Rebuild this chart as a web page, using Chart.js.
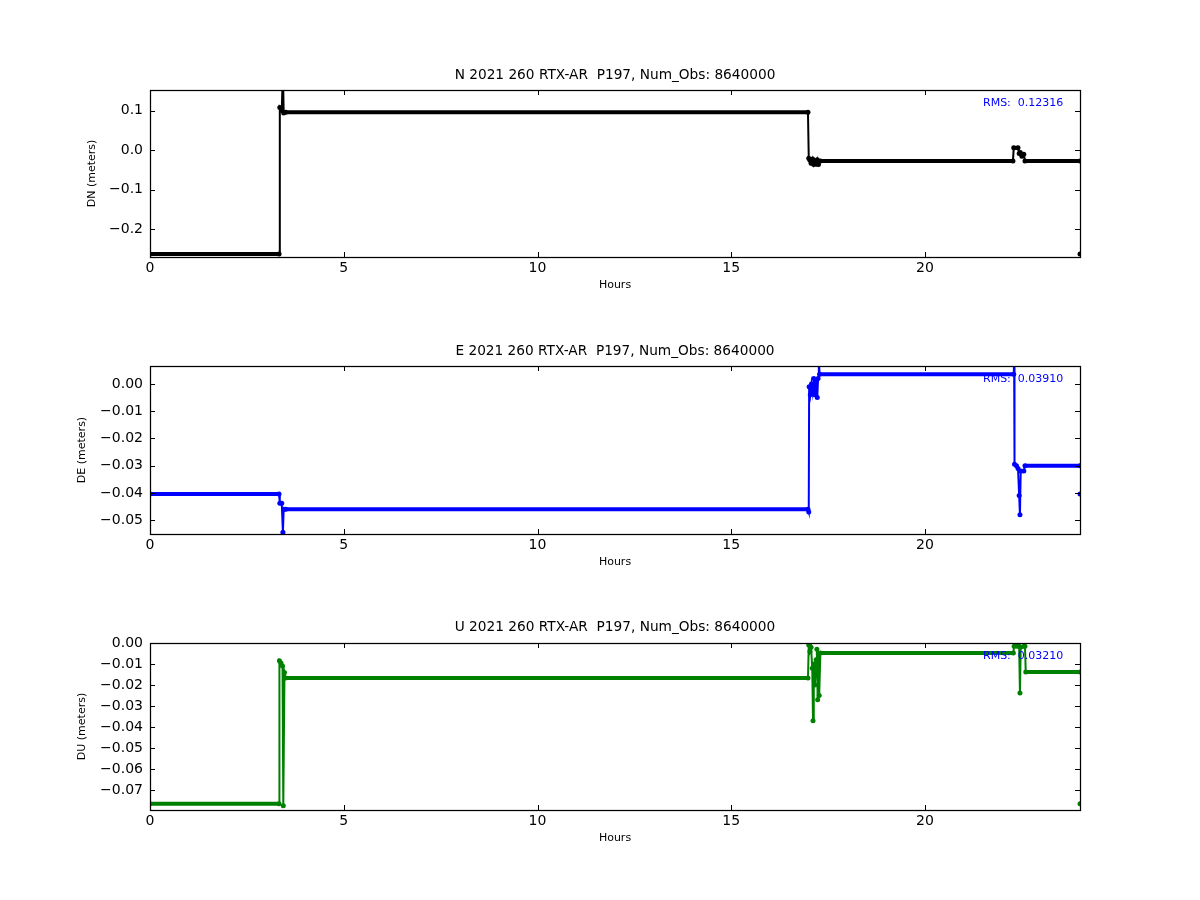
<!DOCTYPE html>
<html><head><meta charset="utf-8">
<script src="https://cdn.jsdelivr.net/npm/chart.js@4.4.0/dist/chart.umd.min.js"></script>
<style>
body{margin:0;background:#fff;width:1200px;height:900px;position:relative;overflow:hidden}
canvas{position:absolute;left:0}
</style></head>
<body>
<canvas id="cN" width="1200" height="225" style="top:67px"></canvas>
<canvas id="cE" width="1200" height="226" style="top:343px"></canvas>
<canvas id="cU" width="1200" height="226" style="top:619px"></canvas>
<script>
// ---------- data ----------
const xTicks = [0, 5, 10, 15, 20];
const xLimits = [0, 24];

const titleN = 'N 2021 260 RTX-AR  P197, Num_Obs: 8640000';
const titleE = 'E 2021 260 RTX-AR  P197, Num_Obs: 8640000';
const titleU = 'U 2021 260 RTX-AR  P197, Num_Obs: 8640000';
const rmsN = 'RMS:  0.12316';
const rmsE = 'RMS:  0.03910';
const rmsU = 'RMS:  0.03210';

const hoursN  = [0, 3.33, 3.35, 3.40, 3.43, 3.45, 3.50, 16.98, 17.00, 17.03, 17.06, 17.10, 17.13, 17.16, 17.19, 17.22, 17.25, 17.30, 22.27, 22.29, 22.40, 22.43, 22.46, 22.50, 22.55, 22.58, 24.0, 24.0];
const valuesN = [-0.262, -0.262, 0.108, 0.100, 0.200, 0.094, 0.096, 0.096, -0.020, -0.025, -0.033, -0.022, -0.036, -0.028, -0.035, -0.024, -0.036, -0.027, -0.027, 0.006, 0.006, -0.008, -0.006, -0.015, -0.010, -0.027, -0.027, -0.262];
const yTicksN = [-0.2, -0.1, 0.0, 0.1];
const yLimitsN = [-0.2695, 0.152];

const hoursE  = [0, 3.33, 3.35, 3.40, 3.43, 3.45, 3.50, 16.98, 17.00, 17.01, 17.04, 17.07, 17.10, 17.13, 17.16, 17.19, 17.22, 17.24, 17.26, 17.28, 22.29, 22.30, 22.31, 22.36, 22.40, 22.43, 22.45, 22.47, 22.55, 22.58, 24.0, 24.0];
const valuesE = [-0.0404, -0.0404, -0.0438, -0.0438, -0.0545, -0.0460, -0.0460, -0.0460, -0.0470, -0.0010, -0.0040, 0.0000, -0.0030, 0.0020, -0.0040, 0.0010, -0.0050, 0.0020, 0.0090, 0.0036, 0.0036, 0.0090, -0.0295, -0.0300, -0.0310, -0.0410, -0.0480, -0.0320, -0.0320, -0.0300, -0.0300, -0.0404];
const yTicksE = [-0.05, -0.04, -0.03, -0.02, -0.01, 0.00];
const yLimitsE = [-0.0551, 0.0066];

const hoursU  = [0, 3.33, 3.34, 3.38, 3.42, 3.44, 3.47, 3.50, 16.98, 17.00, 17.03, 17.06, 17.09, 17.11, 17.13, 17.16, 17.19, 17.21, 17.23, 17.25, 17.27, 17.30, 22.28, 22.30, 22.38, 22.43, 22.45, 22.47, 22.55, 22.58, 22.60, 24.0, 24.0];
const valuesU = [-0.0765, -0.0765, -0.0085, -0.0095, -0.0110, -0.0775, -0.0140, -0.0167, -0.0167, -0.0010, -0.0040, -0.0020, -0.0120, -0.0370, -0.0100, -0.0200, -0.0080, -0.0030, -0.0270, -0.0050, -0.0250, -0.0048, -0.0048, -0.0015, -0.0015, -0.0015, -0.0238, -0.0020, -0.0015, -0.0015, -0.0138, -0.0138, -0.0765];
const yTicksU = [-0.07, -0.06, -0.05, -0.04, -0.03, -0.02, -0.01, 0.00];
const yLimitsU = [-0.0795, 0.0];

// ---------- rendering ----------
Chart.defaults.font.family = "'DejaVu Sans', sans-serif";
Chart.defaults.color = '#000';

function fmt(v, dec) {
  const s = Math.abs(v).toFixed(dec);
  return (v < -1e-12 ? '\u2212' : '') + s;
}

const framePlugin = {
  id: 'frame',
  afterDatasetsDraw(chart, args, opts) {
    const {ctx, chartArea: a, scales} = chart;
    ctx.save();
    ctx.strokeStyle = '#000';
    ctx.lineWidth = 1;
    const tl = 5;
    ctx.beginPath();
    scales.x.ticks.forEach(t => {
      const px = Math.round(scales.x.getPixelForValue(t.value)) + 0.5;
      ctx.moveTo(px, a.bottom); ctx.lineTo(px, a.bottom - tl);
      ctx.moveTo(px, a.top); ctx.lineTo(px, a.top + tl);
    });
    scales.y.ticks.forEach(t => {
      const py = Math.round(scales.y.getPixelForValue(t.value)) + 0.5;
      ctx.moveTo(a.left, py); ctx.lineTo(a.left + tl, py);
      ctx.moveTo(a.right, py); ctx.lineTo(a.right - tl, py);
    });
    ctx.stroke();
    ctx.lineWidth = 1.25;
    ctx.strokeRect(Math.round(a.left) + 0.5, Math.round(a.top) + 0.5, Math.round(a.right - a.left), Math.round(a.bottom - a.top));
    ctx.fillStyle = '#0000ff';
    ctx.font = "11px 'DejaVu Sans'";
    ctx.textBaseline = 'middle';
    ctx.textAlign = 'left';
    ctx.fillText(opts.text, a.left + 0.8957 * (a.right - a.left), a.top + 0.078 * (a.bottom - a.top));
    ctx.restore();
  }
};

function atRightLimit(c) {
  return c.p0.parsed.x >= xLimits[1] && c.p1.parsed.x >= xLimits[1];
}
function segWidth(c) {
  return c.p0.parsed.y === c.p1.parsed.y ? 4 : 2;
}

function makeChart(id, title, hours, values, color, yLabel, yTicks, yLimits, dec, padLeft, rms, titlePadBottom) {
  const pts = hours.map((h, i) => ({x: h, y: values[i]}));
  new Chart(document.getElementById(id), {
    type: 'line',
    data: {
      datasets: [{
        data: pts,
        borderColor: color,
        backgroundColor: color,
        borderWidth: 2,
        pointRadius: 2.5,
        pointBorderWidth: 0,
        pointBackgroundColor: color,
        tension: 0,
        clip: 0,
        segment: {
          borderWidth: segWidth,
          borderColor: c => (atRightLimit(c) ? 'rgba(0,0,0,0)' : color)
        }
      }]
    },
    options: {
      responsive: false,
      animation: false,
      devicePixelRatio: 1,
      layout: {padding: {left: padLeft, right: 120, top: 0, bottom: 0}},
      plugins: {
        legend: {display: false},
        tooltip: {enabled: false},
        title: {
          display: true, text: title, color: '#000', fullSize: false,
          font: {size: 13.7, weight: 'normal'},
          padding: {top: 0, bottom: titlePadBottom}
        },
        frame: {text: rms}
      },
      scales: {
        x: {
          type: 'linear', min: xLimits[0], max: xLimits[1],
          afterBuildTicks: s => { s.ticks = xTicks.map(v => ({value: v})); },
          afterFit: s => { s.height = 35; },
          grid: {display: false, drawTicks: false},
          border: {display: false},
          ticks: {font: {size: 14}, color: '#000', padding: 3, maxRotation: 0, callback: v => String(v)},
          title: {display: true, text: 'Hours', font: {size: 11}, color: '#000', padding: 0}
        },
        y: {
          type: 'linear', min: yLimits[0], max: yLimits[1],
          afterBuildTicks: s => { s.ticks = yTicks.map(v => ({value: v})); },
          afterFit: s => { s.width = 150 - padLeft; },
          grid: {display: false, drawTicks: false},
          border: {display: false},
          ticks: {font: {size: 14}, color: '#000', padding: 7, callback: v => fmt(v, dec)},
          title: {display: true, text: yLabel, font: {size: 11}, color: '#000', padding: 0}
        }
      }
    },
    plugins: [framePlugin]
  });
}

makeChart('cN', titleN, hoursN, valuesN, '#000000', 'DN (meters)', yTicksN, yLimitsN, 1, 86, rmsN, 6.56);
makeChart('cE', titleE, hoursE, valuesE, '#0000ff', 'DE (meters)', yTicksE, yLimitsE, 2, 76, rmsE, 6.56);
makeChart('cU', titleU, hoursU, valuesU, '#008000', 'DU (meters)', yTicksU, yLimitsU, 2, 76, rmsU, 7.56);
</script>
</body></html>
